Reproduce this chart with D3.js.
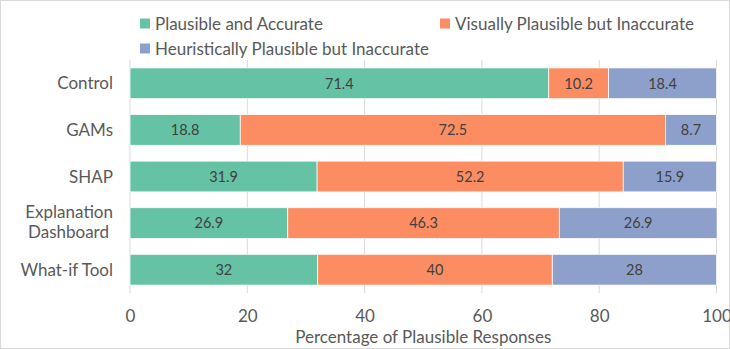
<!DOCTYPE html>
<html>
<head>
<meta charset="utf-8">
<script src="https://cdn.jsdelivr.net/npm/d3@7"></script>
<style>
  html, body { margin: 0; padding: 0; background: #fff; }
  svg { display: block; font-family: Lato, "Open Sans", sans-serif; }
</style>
</head>
<body>
<svg id="chart" width="730" height="349"></svg>
<script>
// Tools compared in the study (top to bottom)
const categories = ["Control", "GAMs", "SHAP", "Explanation Dashboard", "What-if Tool"];
const seriesNames = ["Plausible and Accurate", "Visually Plausible but Inaccurate", "Heuristically Plausible but Inaccurate"];
// Percentage of plausible responses per tool, one array per series
const plausibleAccurate = [71.4, 18.8, 31.9, 26.9, 32];
const visuallyPlausible = [10.2, 72.5, 52.2, 46.3, 40];
const heuristicallyPlausible = [18.4, 8.7, 15.9, 26.9, 28];
const xTicks = [0, 20, 40, 60, 80, 100];
const colors = ["#66c2a5", "#fc8d62", "#8da0cb"];

const svg = d3.select("#chart");
const W = 730, H = 349;
const margin = { left: 130, right: 13.5, top: 60, bottom: 56 };
const FS = 17;

// chart frame
svg.append("rect").attr("x", 0.5).attr("y", 0.5).attr("width", W - 1).attr("height", H - 1)
  .attr("fill", "#fff").attr("stroke", "#d9d9d9");

const x = d3.scaleLinear().domain([0, 100]).range([margin.left, W - margin.right]);
const y = d3.scaleBand().domain(categories).range([margin.top, H - margin.bottom])
  .paddingInner(0.34).paddingOuter(0.17);

// vertical gridlines
svg.append("g").selectAll("line").data(xTicks).join("line")
  .attr("x1", d => x(d)).attr("x2", d => x(d))
  .attr("y1", margin.top).attr("y2", H - margin.bottom)
  .attr("stroke", "#d9d9d9").attr("stroke-width", 1);

// stacked segments
const rows = categories.map((c, i) => ({
  cat: c,
  [seriesNames[0]]: plausibleAccurate[i],
  [seriesNames[1]]: visuallyPlausible[i],
  [seriesNames[2]]: heuristicallyPlausible[i]
}));
const stack = d3.stack().keys(seriesNames)(rows);

const layers = svg.append("g").selectAll("g").data(stack).join("g")
  .attr("fill", (d, i) => colors[i]);
layers.selectAll("rect").data(d => d).join("rect")
  .attr("x", d => x(d[0]))
  .attr("y", d => y(d.data.cat))
  .attr("width", d => x(d[1]) - x(d[0]))
  .attr("height", y.bandwidth())
  .attr("stroke", "#fff").attr("stroke-width", 0.75);

// value labels centred in each segment
const labels = svg.append("g").attr("font-size", 14.5).attr("fill", "#404040").attr("text-anchor", "middle");
stack.forEach(layer => {
  layer.forEach(d => {
    labels.append("text")
      .attr("x", (x(d[0]) + x(d[1])) / 2)
      .attr("y", y(d.data.cat) + y.bandwidth() / 2)
      .attr("dy", "0.36em")
      .text(+(d[1] - d[0]).toFixed(1));
  });
});

// category axis labels
const catG = svg.append("g").attr("font-size", FS).attr("fill", "#595959").attr("text-anchor", "end");
categories.forEach(c => {
  const cy = y(c) + y.bandwidth() / 2;
  if (c === "Explanation Dashboard") {
    catG.append("text").attr("x", 113).attr("y", cy - 5.5).text("Explanation");
    catG.append("text").attr("x", 109).attr("y", cy + 14.5).text("Dashboard");
  } else {
    catG.append("text").attr("x", 113).attr("y", cy).attr("dy", "0.36em").text(c);
  }
});

// x axis tick labels
const xAxis = d3.axisBottom(x).tickValues(xTicks).tickSize(0).tickPadding(17);
const xg = svg.append("g").attr("transform", `translate(0,${H - margin.bottom})`).call(xAxis);
xg.select(".domain").remove();
xg.selectAll("text").attr("font-size", FS).attr("fill", "#595959")
  .attr("font-family", "Lato, \"Open Sans\", sans-serif");

// x axis title
svg.append("text").attr("x", (x(0) + x(100)) / 2).attr("y", 337).attr("dy", "0.36em")
  .attr("text-anchor", "middle").attr("font-size", FS).attr("fill", "#595959")
  .text("Percentage of Plausible Responses");

// legend
const legendPos = [[140, 23.5], [440, 23.5], [140, 48.5]];
const lg = svg.append("g");
seriesNames.forEach((s, i) => {
  const [lx, ly] = legendPos[i];
  lg.append("rect").attr("x", lx).attr("y", ly - 5).attr("width", 10).attr("height", 10).attr("fill", colors[i]);
  lg.append("text").attr("x", lx + 15).attr("y", ly).attr("dy", "0.36em")
    .attr("font-size", FS).attr("fill", "#595959").text(s);
});
</script>
</body>
</html>
